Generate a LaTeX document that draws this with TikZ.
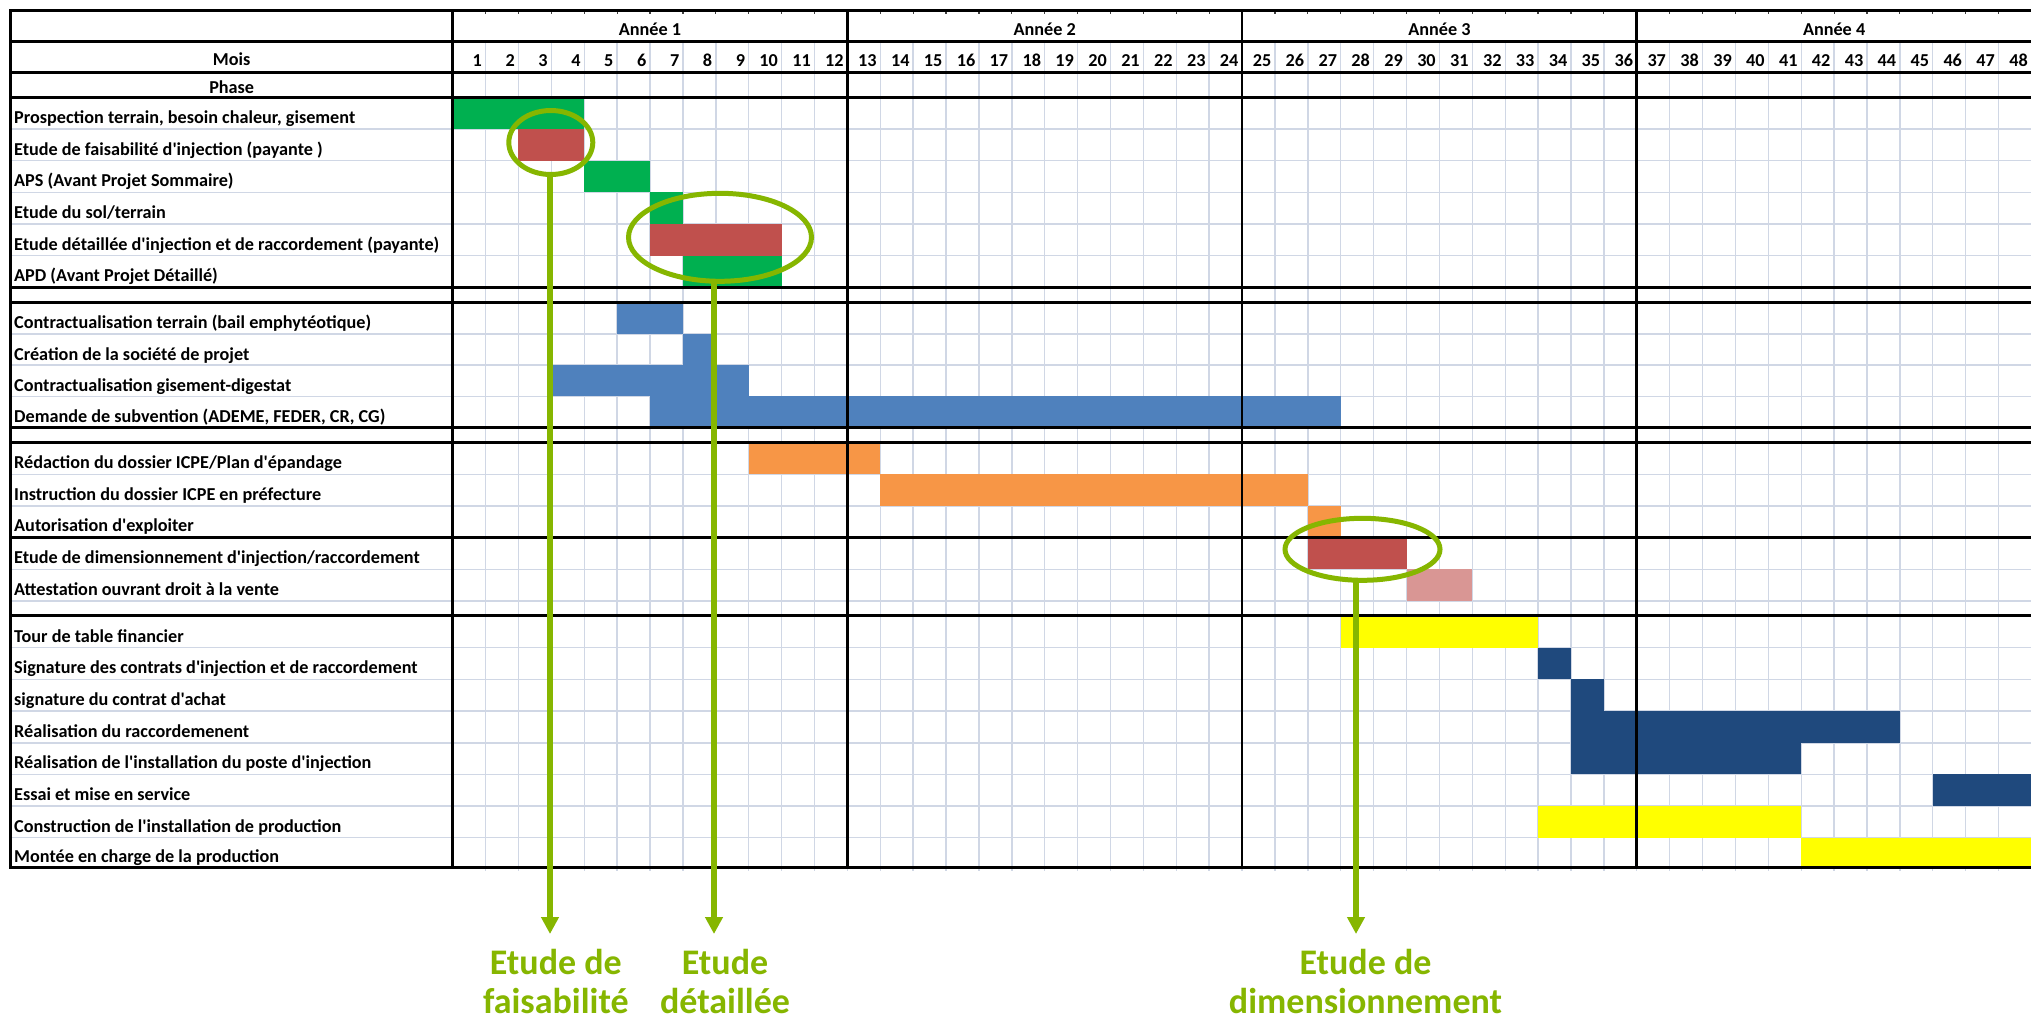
\documentclass[tikz,border=0pt]{standalone}
\usepackage{fontspec}
\setmainfont{Carlito}[Ligatures=TeXOff]
\usetikzlibrary{arrows.meta,shapes.geometric}
\definecolor{greenbar}{HTML}{00B050}
\definecolor{redbar}{HTML}{C0504D}
\definecolor{bluebar}{HTML}{4F81BD}
\definecolor{orangebar}{HTML}{F79646}
\definecolor{pinkbar}{HTML}{D99694}
\definecolor{yellowbar}{RGB}{255,255,0}
\definecolor{navybar}{HTML}{1F497D}
\definecolor{gridc}{HTML}{D0D7E5}
\definecolor{lime}{RGB}{134,182,0}
\newcommand\gb[5]{\fill[fill=#5] ({452.7+(#1-1)*32.89},#3) rectangle ({452.7+#2*32.89},#4);}
\tikzset{
  gridline/.style={draw=gridc, line width=1.4pt},
  heavy/.style={draw=black, line width=2.5pt, line cap=rect},
  lab/.style={font=\fontsize{18.2}{21}\selectfont\bfseries, inner sep=0pt, anchor=base west},
  hdr/.style={font=\fontsize{18.2}{21}\selectfont\bfseries, inner sep=0pt, anchor=base},
  num/.style={font=\fontsize{18.2}{21}\selectfont\bfseries, inner sep=0pt, anchor=base east},
  ring/.style={ellipse, draw=lime, line width=5pt, inner sep=0pt, outer sep=0pt},
  pointer/.style={draw=lime, line width=5.5pt, -{Triangle[width=17pt,length=17pt]}},
  glabel/.style={font=\fontsize{36}{39}\selectfont\bfseries, text=lime, align=center, inner sep=0pt, anchor=south}
}
\begin{document}
\begin{tikzpicture}[x=1pt,y=-1pt]
\useasboundingbox[fill=white] (0,0) rectangle (2031,1018);
\begin{scope}
\clip (0,0) rectangle (2031,1018);
% light grid
\foreach \y in {129.0,160.6,192.3,224.0,255.6,333.8,365.1,396.4,474.2,505.8,569.3,601.0,647.5,679.2,711,742.8,774.2,805.8,837.7}
  \draw[gridline] (10.7,\y) -- (2035,\y);
\foreach \m in {1,...,47}
  \draw[gridline] ({452.7+\m*32.89},41.5) -- ({452.7+\m*32.89},871);
\foreach \m in {1,...,47}
  \draw[black!75, line width=1.2pt] ({452.7+\m*32.89},10.3) -- ({452.7+\m*32.89},14);
% bars
\gb{1}{4}{97.3}{129.0}{greenbar}
\gb{3}{4}{129.0}{160.6}{redbar}
\gb{5}{6}{160.6}{192.3}{greenbar}
\gb{7}{7}{192.3}{224.0}{greenbar}
\gb{7}{10}{224.0}{255.6}{redbar}
\gb{8}{10}{255.6}{287.3}{greenbar}
\gb{6}{7}{302.5}{333.8}{bluebar}
\gb{8}{8}{333.8}{365.1}{bluebar}
\gb{4}{9}{365.1}{396.4}{bluebar}
\gb{7}{27}{396.4}{427.7}{bluebar}
\gb{10}{13}{442.7}{474.2}{orangebar}
\gb{14}{26}{474.2}{505.8}{orangebar}
\gb{27}{27}{505.8}{537.3}{orangebar}
\gb{27}{29}{537.3}{569.3}{redbar}
\gb{30}{31}{569.3}{601.0}{pinkbar}
\gb{28}{33}{615.5}{647.5}{yellowbar}
\gb{34}{34}{647.5}{679.2}{navybar}
\gb{35}{35}{679.2}{711}{navybar}
\gb{35}{44}{711}{742.8}{navybar}
\gb{35}{41}{742.8}{774.2}{navybar}
\gb{46}{48}{774.2}{805.8}{navybar}
\gb{34}{41}{805.8}{837.7}{yellowbar}
\gb{42}{48}{837.7}{867.7}{yellowbar}
% heavy lines
\foreach \y in {10.3,41.5,72.7,97.3,287.3,302.5,427.7,442.7,537.3,615.5,867.7}
  \draw[heavy] (10.7,\y) -- (2035,\y);
\foreach \x in {10.7,452.7,847.4,1242.1,1636.7}
  \draw[heavy] (\x,10.3) -- (\x,867.7);
\end{scope}
% header
\node[hdr] (y1) at (649.9,35) {Année 1};
\node[hdr] (y2) at (1044.7,35) {Année 2};
\node[hdr] (y3) at (1439.4,35) {Année 3};
\node[hdr] (y4) at (1834.1,35) {Année 4};
\node[hdr] (mois) at (231.7,65.5) {Mois};
\node[hdr] (phase) at (231.7,93) {Phase};
\foreach \m in {1,...,48}
  \node[num] (m\m) at ({452.7+\m*32.89-3.5},66) {\m};
% row labels
\node[lab] (r1) at (14,123.5) {Prospection terrain, besoin chaleur, gisement};
\node[lab] (r2) at (14,155.1) {Etude de faisabilité d'injection (payante )};
\node[lab] (r3) at (14,186.8) {APS (Avant Projet Sommaire)};
\node[lab] (r4) at (14,218.5) {Etude du sol/terrain};
\node[lab] (r5) at (14,250.1) {Etude détaillée d'injection et de raccordement (payante)};
\node[lab] (r6) at (14,281.8) {APD (Avant Projet Détaillé)};
\node[lab] (r7) at (14,328.8) {Contractualisation terrain (bail emphytéotique)};
\node[lab] (r8) at (14,360.1) {Création de la société de projet};
\node[lab] (r9) at (14,391.4) {Contractualisation gisement-digestat};
\node[lab] (r10) at (14,422.7) {Demande de subvention (ADEME, FEDER, CR, CG)};
\node[lab] (r11) at (14,468.7) {Rédaction du dossier ICPE/Plan d'épandage};
\node[lab] (r12) at (14,500.3) {Instruction du dossier ICPE en préfecture};
\node[lab] (r13) at (14,531.8) {Autorisation d'exploiter};
\node[lab] (r14) at (14,563.8) {Etude de dimensionnement d'injection/raccordement};
\node[lab] (r15) at (14,595.5) {Attestation ouvrant droit à la vente};
\node[lab] (r16) at (14,642) {Tour de table financier};
\node[lab] (r17) at (14,673.7) {Signature des contrats d'injection et de raccordement};
\node[lab] (r18) at (14,705.5) {signature du contrat d'achat};
\node[lab] (r19) at (14,737.3) {Réalisation du raccordemenent};
\node[lab] (r20) at (14,768.7) {Réalisation de l'installation du poste d'injection};
\node[lab] (r21) at (14,800.3) {Essai et mise en service};
\node[lab] (r22) at (14,832.2) {Construction de l'installation de production};
\node[lab] (r23) at (14,862.2) {Montée en charge de la production};
% annotations
\node[ring, minimum width=84pt, minimum height=64pt] (e1) at (550.8,142.5) {};
\node[ring, minimum width=183pt, minimum height=88pt] (e2) at (720,237.3) {};
\node[ring, minimum width=155pt, minimum height=62pt] (e3) at (1362.5,549.3) {};
\coordinate (t1) at (550,934);
\coordinate (t2) at (714,934);
\coordinate (t3) at (1356,934);
\draw[pointer] (e1.south -| t1) -- (t1);
\draw[pointer] (e2.south -| t2) -- (t2);
\draw[pointer] (e3.south -| t3) -- (t3);
\node[glabel] (l1) at (555.8,1013.5) {Etude de\\faisabilité};
\node[glabel] (l2) at (725,1013.5) {Etude\\détaillée};
\node[glabel] (l3) at (1365.5,1013.5) {Etude de\\dimensionnement};
\end{tikzpicture}
\end{document}
